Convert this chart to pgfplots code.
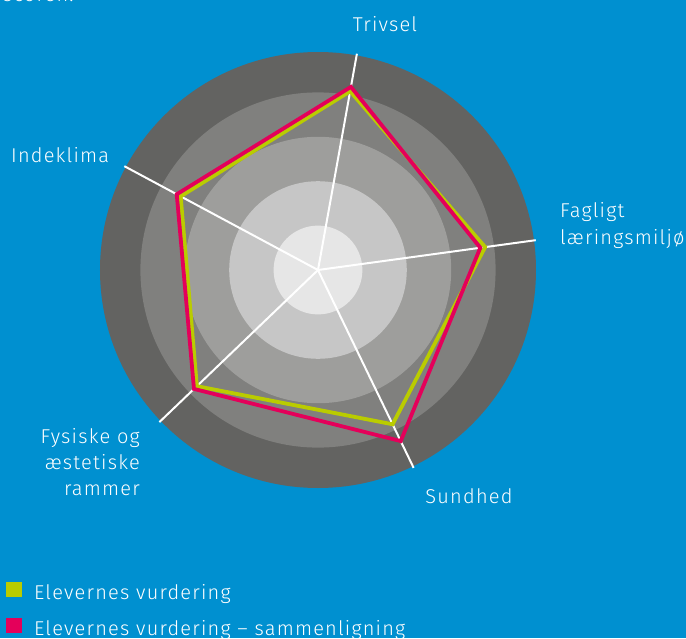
\documentclass[border=0pt]{standalone}
\usepackage{pgfplots}
\pgfplotsset{compat=1.18}
\usepgfplotslibrary{polar}
\usepackage{fontspec}
\setmainfont{Fira Sans Light}[LetterSpace=6]

\definecolor{bg}{RGB}{0,144,208}
\definecolor{ring1}{RGB}{99,99,97}
\definecolor{ring2}{RGB}{128,128,126}
\definecolor{ring3}{RGB}{158,158,156}
\definecolor{ring4}{RGB}{198,198,198}
\definecolor{ring5}{RGB}{230,230,230}
\definecolor{elevgreen}{RGB}{186,204,0}
\definecolor{elevpink}{RGB}{228,0,90}

\newcommand{\lbl}{\fontsize{20}{26.5}\selectfont}

\begin{document}
\begin{tikzpicture}
\useasboundingbox (0pt,0pt) rectangle (686pt,638pt);
\clip (0pt,0pt) rectangle (686pt,638pt);
\fill[bg] (0pt,0pt) rectangle (686pt,638pt);

% cut-off line of text above the chart
\node[anchor=base west, inner sep=0pt, text=white, font=\lbl] at (3pt,636pt) {scoren.};

\begin{polaraxis}[
    at={(318pt,368pt)}, anchor=center,
    scale only axis, width=444pt,
    ymin=0, ymax=5,
    hide axis, clip=false,
    legend style={
        at={(-0.2027,-0.1937)}, anchor=north west,
        draw=none, fill=none, text=white, font=\lbl,
        inner sep=0pt, row sep=10.5pt,
        cells={anchor=west},
    },
    legend image code/.code={
        \path[draw=none, fill=none] (0pt,-5pt) rectangle (26pt,15pt);
        \fill[#1, draw=none] (0pt,-4pt) rectangle (16pt,11pt);
    },
]
% background rings
\fill[ring1] (axis cs:0,0) circle[radius=218pt];
\fill[ring2] (axis cs:0,0) circle[radius=177.6pt];
\fill[ring3] (axis cs:0,0) circle[radius=133.2pt];
\fill[ring4] (axis cs:0,0) circle[radius=88.8pt];
\fill[ring5] (axis cs:0,0) circle[radius=44.4pt];

% spokes
\addplot[white, line width=2pt, forget plot] coordinates {(79.8,0) (79.8,4.95)};
\addplot[white, line width=2pt, forget plot] coordinates {(7.8,0) (7.8,4.95)};
\addplot[white, line width=2pt, forget plot] coordinates {(-64.2,0) (-64.2,4.95)};
\addplot[white, line width=2pt, forget plot] coordinates {(-136.2,0) (-136.2,4.95)};
\addplot[white, line width=2pt, forget plot] coordinates {(151.8,0) (151.8,4.95)};

% Elevernes vurdering
\addplot[color=elevgreen, line width=3.8pt, line join=miter, no marks] coordinates {
    (79.8,4.09) (7.8,3.80) (-64.2,3.86) (-136.2,3.78) (151.8,3.51) (79.8,4.09)
} -- cycle;
\addlegendentry{Elevernes vurdering}

% Elevernes vurdering - sammenligning
\addplot[color=elevpink, line width=3.8pt, line join=miter, no marks] coordinates {
    (79.8,4.19) (7.8,3.69) (-64.2,4.28) (-136.2,3.87) (151.8,3.61) (79.8,4.19)
} -- cycle;
\addlegendentry{Elevernes vurdering -- sammenligning}
\end{polaraxis}

% category labels (base anchor = baseline of the last line)
\node[anchor=base, inner sep=0pt, text=white, font=\lbl] at (385pt,606.5pt) {Trivsel};
\node[anchor=base west, inner sep=0pt, text=white, font=\lbl, align=left] at (560pt,393.5pt) {Fagligt\\læringsmiljø};
\node[anchor=base, inner sep=0pt, text=white, font=\lbl] at (469pt,134pt) {Sundhed};
\node[anchor=base east, inner sep=0pt, text=white, font=\lbl, align=right] at (140pt,142pt) {Fysiske og\\æstetiske\\rammer};
\node[anchor=base west, inner sep=0pt, text=white, font=\lbl] at (11pt,475pt) {Indeklima};
\end{tikzpicture}
\end{document}
